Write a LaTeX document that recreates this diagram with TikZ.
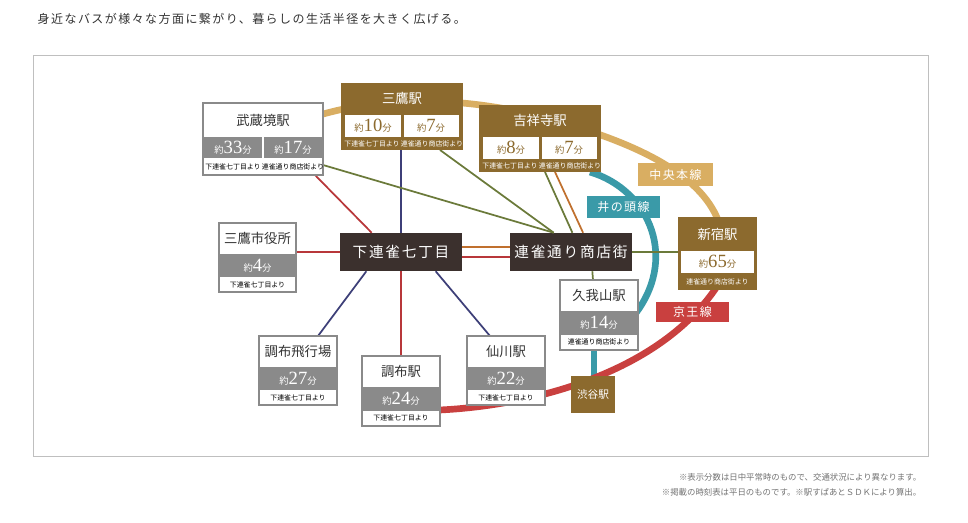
\documentclass[tikz,border=0pt]{standalone}
\usepackage{fontspec}
\newfontfamily\cjk{Noto Sans CJK JP}
\newfontfamily\cjkw[LetterSpace=12]{Noto Sans CJK JP}
\setmainfont{Liberation Serif}
\usetikzlibrary{fit}
\definecolor{boxgray}{HTML}{8A8A8A}
\definecolor{brn}{HTML}{8C6A2E}
\definecolor{dk}{HTML}{3B302D}
\definecolor{gold}{HTML}{D9AE62}
\definecolor{teal}{HTML}{3A9AA8}
\definecolor{kred}{HTML}{C9403F}
\definecolor{bred}{HTML}{B8373A}
\definecolor{navy}{HTML}{3D3F78}
\definecolor{olive}{HTML}{6B7A3A}
\definecolor{org}{HTML}{C0702E}
\definecolor{txt}{HTML}{333333}
\tikzset{
 busline/.style={line width=1.3pt},
 railline/.style={line width=5pt},
 tag/.style={inner sep=0,text=white,font=\cjkw\fontsize{9}{9}\selectfont},
 hub/.style={inner sep=0,fill=dk,text=white,font=\cjk\fontsize{11}{11}\selectfont},
}
\newcommand\numtxt[2]{{\cjk\fontsize{7}{7}\selectfont 約}{\fontsize{14}{14}\selectfont #1}{\cjk\fontsize{7}{7}\selectfont 分}}
\newcommand\subtxt[1]{{\cjk\fontsize{5.2}{5.2}\selectfont #1}}
\newcommand\wbox[8]{%
 \pgfmathsetmacro\ya{#3+0.45*(#5-#3)}\pgfmathsetmacro\yb{#3+0.78*(#5-#3)}%
 \node[fit={(#2,#3)(#4,#5)},inner sep=0,draw=boxgray,line width=1.4pt,fill=white](#1){};
 \fill[boxgray] (#2,\ya) rectangle (#4,\yb);
 \node[text=txt,font=\cjk\fontsize{10}{10}\selectfont] at ({(#2+#4)/2},{(#3+\ya)/2}) {#6};
 \node[text=white] at ({(#2+#4)/2},{(\ya+\yb)/2}) {\numtxt{#7}{}};
 \node[text=black] at ({(#2+#4)/2},{(\yb+#5)/2}) {\subtxt{#8}};
}
\newcommand\bbox[6]{%
 \node[fit={(#2,#3)(#2+122,#3+67)},inner sep=0,fill=brn](#1){};
 \node[text=white,font=\cjk\fontsize{10}{10}\selectfont] at (#2+61,#3+15) {#4};
 \fill[white] (#2+4,#3+32) rectangle (#2+59.5,#3+54);
 \fill[white] (#2+62.5,#3+32) rectangle (#2+118,#3+54);
 \node[text=brn] at (#2+32,#3+43) {\numtxt{#5}{}};
 \node[text=brn] at (#2+90,#3+43) {\numtxt{#6}{}};
 \node[text=white] at (#2+31,#3+61) {\subtxt{下連雀七丁目より}};
 \node[text=white] at (#2+91,#3+61) {\subtxt{連雀通り商店街より}};
}
\begin{document}
\begin{tikzpicture}[x=0.75pt,y=-0.75pt]
\useasboundingbox (0,0) rectangle (968,523);
\fill[white] (0,0) rectangle (968,523);
\node[anchor=west,text=txt,font=\cjkw\fontsize{9}{9}\selectfont] (title) at (33,19) {身近なバスが様々な方面に繋がり、暮らしの生活半径を大きく広げる。};
\node[fit={(33,55)(928,456)},inner sep=0,draw=black!25,line width=0.6pt] (frame) {};
\node[anchor=east,text=black!55,font=\cjk\fontsize{6.3}{6.3}\selectfont] (n1) at (926,477) {※表示分数は日中平常時のもので、交通状況により異なります。};
\node[anchor=east,text=black!55,font=\cjk\fontsize{6.3}{6.3}\selectfont] (n2) at (926,492) {※掲載の時刻表は平日のものです。※駅すぱあとＳＤＫにより算出。};

\node[hub,fit={(340,233)(462,271)}] (shimo) {};
\node[hub,fit={(510,233)(632,271)}] (renjaku) {};
% rail lines
\draw[railline,gold,line cap=round] (310,118) .. controls (380,95) and (470,95) .. (560,122) .. controls (640,145) and (700,175) .. (718,220);
\draw[railline,teal] (590,172) .. controls (650,190) and (680,260) .. (632,318);
\draw[railline,teal] (594,345) -- (594,380);
\draw[railline,kred] (440,410) .. controls (540,405) and (660,370) .. (716,288);
% bus lines
\draw[busline,bred] (315,175) -- ([xshift=-22pt]shimo.north);
\draw[busline,bred] (296,252) -- (shimo.west);
\draw[busline,bred] (shimo.south) -- (401,356);
\draw[busline,org] ([yshift=3.5pt]shimo.east) -- ([yshift=3.5pt]renjaku.west);
\draw[busline,bred] ([yshift=-3.5pt]shimo.east) -- ([yshift=-3.5pt]renjaku.west);
\draw[busline,navy] (401,150) -- (shimo.north);
\draw[busline,navy] ([xshift=-26pt]shimo.south) -- (318,336);
\draw[busline,navy] ([xshift=26pt]shimo.south) -- (490,336);
\draw[busline,olive] (323,165) -- ([xshift=33pt]renjaku.north west);
\draw[busline,olive] (440,150) -- ([xshift=33pt]renjaku.north west);
\draw[busline,olive] (545,172) -- ([xshift=47pt]renjaku.north west);
\draw[busline,org] (555,172) -- ([xshift=55pt]renjaku.north west);
\draw[busline,olive] (renjaku.east) -- (678,252);
\draw[busline,olive] ([xshift=16pt]renjaku.south) -- (593,280);
\node[text=white,font=\cjkw\fontsize{11}{11}\selectfont] at (shimo) {下連雀七丁目};
\node[text=white,font=\cjkw\fontsize{11}{11}\selectfont] at (renjaku) {連雀通り商店街};
% Musashisakai
\node[fit={(203,103)(323,175)},inner sep=0,draw=boxgray,line width=1.4pt,fill=white](musashi){};
\fill[boxgray] (203,137) rectangle (323,158);
\draw[white,line width=1.5pt] (263,137) -- (263,158);
\node[text=txt,font=\cjk\fontsize{10}{10}\selectfont] at (263,120) {武蔵境駅};
\node[text=white] at (233,147.5) {\numtxt{33}{}};
\node[text=white] at (293,147.5) {\numtxt{17}{}};
\node at (233,166.5) {\subtxt{下連雀七丁目より}};
\node at (293,166.5) {\subtxt{連雀通り商店街より}};
\bbox{mitaka}{341}{83}{三鷹駅}{10}{7}
\bbox{kichi}{479}{105}{吉祥寺駅}{8}{7}
\node[fit={(678,217)(757,290)},inner sep=0,fill=brn](shinjuku){};
\node[text=white,font=\cjk\fontsize{10}{10}\selectfont] at (717.5,234) {新宿駅};
\fill[white] (681,251) rectangle (754,273);
\node[text=brn] at (717.5,262) {\numtxt{65}{}};
\node[text=white] at (717.5,281.5) {\subtxt{連雀通り商店街より}};
\node[fit={(571,376)(615,413)},inner sep=0,fill=brn,text=white](shibuya){};
\node[text=white,font=\cjk\fontsize{8}{8}\selectfont] at (shibuya) {渋谷駅};
\wbox{shiyaku}{219}{223}{296}{292}{三鷹市役所}{4}{下連雀七丁目より}
\wbox{kugayama}{560}{280}{638}{350}{久我山駅}{14}{連雀通り商店街より}
\wbox{hikojo}{259}{336}{337}{405}{調布飛行場}{27}{下連雀七丁目より}
\wbox{chofu}{362}{356}{440}{426}{調布駅}{24}{下連雀七丁目より}
\wbox{sengawa}{467}{336}{545}{405}{仙川駅}{22}{下連雀七丁目より}
\node[tag,fill=gold,fit={(638,163)(713,186)}] (chuo) {};
\node[tag] at (chuo) {中央本線};
\node[tag,fill=teal,fit={(587,196)(660,218)}] (inoka) {};
\node[tag] at (inoka) {井の頭線};
\node[tag,fill=kred,fit={(656,302)(729,322)}] (keio) {};
\node[tag] at (keio) {京王線};
\end{tikzpicture}
\end{document}
